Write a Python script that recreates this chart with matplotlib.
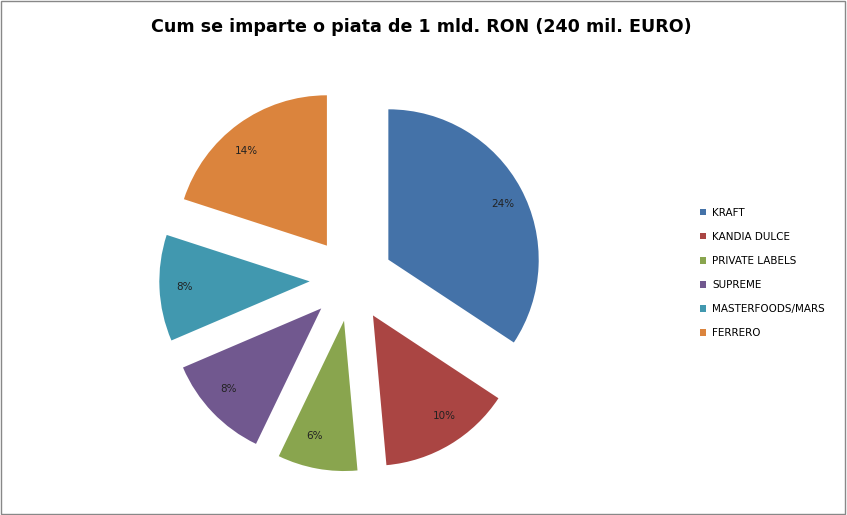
import matplotlib.pyplot as plt
from matplotlib.patches import Rectangle

brands = ['KRAFT', 'KANDIA DULCE', 'PRIVATE LABELS', 'SUPREME', 'MASTERFOODS/MARS', 'FERRERO']
shares = [24, 10, 6, 8, 8, 14]
colors = ['#4472a8', '#aa4543', '#89a54e', '#71588f', '#4198af', '#db843d']

fig = plt.figure(figsize=(8.47, 5.15), dpi=100)
fig.patches.append(Rectangle((0.001, 0.001), 0.997, 0.997, transform=fig.transFigure,
                             fill=False, edgecolor='#888888', linewidth=1))

ax = fig.add_axes([150/847, 34/515, 403/847, 403/515])
wedges, texts = ax.pie(shares, colors=colors, startangle=90, counterclock=False,
                       radius=0.97, explode=[0.27]*len(shares),
                       labels=[f'{s}%' for s in shares], labeldistance=0.78,
                       textprops=dict(fontsize=7.5, color='#222222'))
ax.set_xlim(-1.3, 1.3)
ax.set_ylim(-1.3, 1.3)
ax.set_aspect('equal')

fig.text(0.497, 0.947, 'Cum se imparte o piata de 1 mld. RON (240 mil. EURO)',
         ha='center', va='center', fontsize=12.6, fontweight='bold')

fig.legend(wedges, brands, loc='center left', bbox_to_anchor=(0.815, 0.47),
           frameon=False, fontsize=7.5, handlelength=0.6, handleheight=0.6,
           labelspacing=1.35, handletextpad=0.6)

fig.savefig('out.png', dpi=100)
